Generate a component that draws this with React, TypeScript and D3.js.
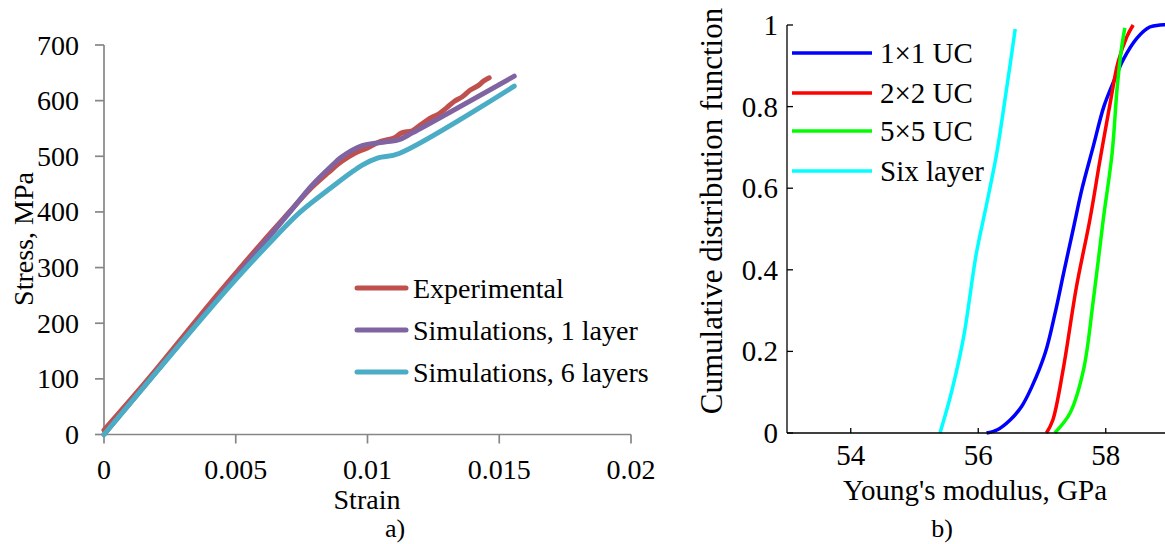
import React, { useEffect, useRef } from "react";
import * as d3 from "d3";

// ---- panel a) stress-strain data [strain, stress MPa] ----
const experimental = [
  [0, 8], [0.001, 62], [0.002, 118], [0.003, 176], [0.004, 234], [0.005, 290],
  [0.006, 345], [0.007, 398], [0.0078, 440], [0.0085, 470], [0.009, 490],
  [0.0095, 505], [0.01, 515], [0.0105, 527], [0.011, 533], [0.0113, 542],
  [0.0117, 546], [0.012, 556], [0.0124, 569], [0.0127, 576], [0.013, 587],
  [0.0133, 599], [0.0136, 607], [0.0139, 619], [0.0142, 627], [0.0144, 635],
  [0.01462, 641],
];
const sim1Layer = [
  [0, 0], [0.0069, 391], [0.0079, 448], [0.00867, 484], [0.009, 498],
  [0.0098, 519], [0.0107, 526], [0.0112, 530], [0.0117, 542], [0.01557, 644],
];
const sim6Layers = [
  [0, 0], [0.0048, 268], [0.0064, 350], [0.0074, 398], [0.0086, 443],
  [0.0098, 484], [0.0104, 497], [0.0112, 505], [0.01557, 626],
];
const strainTicks = [0, 0.005, 0.01, 0.015, 0.02];
const stressTicks = [0, 100, 200, 300, 400, 500, 600, 700];
const seriesA = ["Experimental", "Simulations, 1 layer", "Simulations, 6 layers"];
const colorsA = ["#C0504D", "#8064A2", "#4BACC6"];

// ---- panel b) CDF data [modulus GPa, probability] ----
const uc1 = [
  [56.13, 0], [56.3, 0.008], [56.5, 0.032], [56.68, 0.065], [56.84, 0.113],
  [57.05, 0.196], [57.2, 0.29], [57.35, 0.4], [57.49, 0.5], [57.63, 0.6],
  [57.8, 0.7], [57.97, 0.8], [58.12, 0.86], [58.27, 0.914], [58.49, 0.968],
  [58.69, 0.995], [58.85, 1], [59, 1],
];
const uc2 = [
  [57.07, 0], [57.17, 0.032], [57.33, 0.154], [57.54, 0.358], [57.75, 0.522],
  [57.91, 0.669], [58.07, 0.809], [58.19, 0.907], [58.33, 0.971], [58.43, 1],
];
const uc5 = [
  [57.2, 0], [57.44, 0.049], [57.65, 0.154], [57.8, 0.319], [57.96, 0.522],
  [58.1, 0.686], [58.18, 0.848], [58.25, 0.946], [58.3, 0.993],
];
const sixLayer = [
  [55.4, 0], [55.58, 0.1], [55.77, 0.235], [55.97, 0.44], [56.13, 0.56],
  [56.29, 0.686], [56.45, 0.85], [56.58, 0.99],
];
const modulusTicks = [54, 56, 58];
const cdfTicks = [0, 0.2, 0.4, 0.6, 0.8, 1];
const seriesB = ["1×1 UC", "2×2 UC", "5×5 UC", "Six layer"];
const colorsB = ["#0000FF", "#FF0000", "#00FF00", "#00FFFF"];

const FONT = "'Liberation Serif', 'Times New Roman', serif";

const App = () => {
  const ref = useRef(null);

  useEffect(() => {
    const svg = d3.select(ref.current);
    svg.selectAll("*").remove();

    // ================= panel a =================
    const xA = d3.scaleLinear().domain([0, 0.02]).range([104, 631]);
    const yA = d3.scaleLinear().domain([0, 700]).range([434.5, 45]);
    const axisGrey = "#868686";

    const gA = svg.append("g");
    // y axis
    gA.append("line")
      .attr("x1", xA(0)).attr("x2", xA(0))
      .attr("y1", yA(0)).attr("y2", yA(700))
      .attr("stroke", axisGrey).attr("stroke-width", 1.7);
    stressTicks.forEach((t) => {
      gA.append("line")
        .attr("x1", xA(0) - 9).attr("x2", xA(0))
        .attr("y1", yA(t)).attr("y2", yA(t))
        .attr("stroke", axisGrey).attr("stroke-width", 1.7);
      gA.append("text")
        .attr("x", 79).attr("y", yA(t))
        .attr("text-anchor", "end").attr("dominant-baseline", "central")
        .text(t);
    });
    // x axis
    gA.append("line")
      .attr("x1", xA(0)).attr("x2", xA(0.02))
      .attr("y1", yA(0)).attr("y2", yA(0))
      .attr("stroke", axisGrey).attr("stroke-width", 1.7);
    strainTicks.forEach((t) => {
      gA.append("line")
        .attr("x1", xA(t)).attr("x2", xA(t))
        .attr("y1", yA(0)).attr("y2", yA(0) + 9)
        .attr("stroke", axisGrey).attr("stroke-width", 1.7);
      gA.append("text")
        .attr("x", xA(t)).attr("y", 479)
        .attr("text-anchor", "middle")
        .text(t);
    });

    const lineA = d3.line()
      .x((d) => xA(d[0]))
      .y((d) => yA(d[1]))
      .curve(d3.curveCatmullRom.alpha(0.5));

    [experimental, sim1Layer, sim6Layers].forEach((s, i) => {
      gA.append("path")
        .datum(s)
        .attr("d", lineA)
        .attr("fill", "none")
        .attr("stroke", colorsA[i])
        .attr("stroke-width", 5)
        .attr("stroke-linecap", "round")
        .attr("stroke-linejoin", "round");
    });

    // legend a
    seriesA.forEach((name, i) => {
      const ly = 288 + i * 42;
      gA.append("line")
        .attr("x1", 357).attr("x2", 406)
        .attr("y1", ly).attr("y2", ly)
        .attr("stroke", colorsA[i]).attr("stroke-width", 5)
        .attr("stroke-linecap", "round");
      gA.append("text")
        .attr("x", 413).attr("y", ly)
        .attr("dominant-baseline", "central")
        .text(name);
    });

    // axis title sits just under the 0.01 label, as in the original
    gA.append("text")
      .attr("x", 367).attr("y", 509)
      .attr("text-anchor", "middle")
      .text("Strain");
    gA.append("text")
      .attr("transform", "translate(33,239) rotate(-90)")
      .attr("text-anchor", "middle")
      .text("Stress, MPa");
    gA.append("text")
      .attr("x", 395).attr("y", 537)
      .attr("text-anchor", "middle")
      .style("font-size", "26px")
      .text("a)");

    // ================= panel b =================
    const xB = d3.scaleLinear().domain([53, 59]).range([787, 1169.5]);
    const yB = d3.scaleLinear().domain([0, 1]).range([433, 25]);
    const gB = svg.append("g").style("font-size", "29px");

    const lineB = d3.line()
      .x((d) => xB(d[0]))
      .y((d) => yB(d[1]))
      .curve(d3.curveCatmullRom.alpha(0.5));

    [uc1, uc2, uc5, sixLayer].forEach((s, i) => {
      gB.append("path")
        .datum(s)
        .attr("d", lineB)
        .attr("fill", "none")
        .attr("stroke", colorsB[i])
        .attr("stroke-width", 3.5)
        .attr("stroke-linejoin", "round");
    });

    // axes b
    gB.append("line")
      .attr("x1", xB(53)).attr("x2", xB(53))
      .attr("y1", yB(0)).attr("y2", yB(1))
      .attr("stroke", "#000").attr("stroke-width", 1.3);
    gB.append("line")
      .attr("x1", xB(53)).attr("x2", 1165)
      .attr("y1", yB(0)).attr("y2", yB(0))
      .attr("stroke", "#000").attr("stroke-width", 1.3);
    cdfTicks.forEach((t) => {
      gB.append("line")
        .attr("x1", xB(53)).attr("x2", xB(53) + 6)
        .attr("y1", yB(t)).attr("y2", yB(t))
        .attr("stroke", "#000").attr("stroke-width", 1.3);
      gB.append("text")
        .attr("x", 778).attr("y", yB(t))
        .attr("text-anchor", "end").attr("dominant-baseline", "central")
        .text(t);
    });
    modulusTicks.forEach((t) => {
      gB.append("line")
        .attr("x1", xB(t)).attr("x2", xB(t))
        .attr("y1", yB(0)).attr("y2", yB(0) - 5)
        .attr("stroke", "#000").attr("stroke-width", 1.3);
      gB.append("text")
        .attr("x", xB(t)).attr("y", 465)
        .attr("text-anchor", "middle")
        .text(t);
    });

    // legend b
    seriesB.forEach((name, i) => {
      const ly = [53, 93, 131, 171][i];
      gB.append("line")
        .attr("x1", 792).attr("x2", 872)
        .attr("y1", ly).attr("y2", ly)
        .attr("stroke", colorsB[i]).attr("stroke-width", 3.5);
      gB.append("text")
        .attr("x", 880).attr("y", ly)
        .attr("dominant-baseline", "central")
        .text(name);
    });

    gB.append("text")
      .attr("x", 975).attr("y", 500)
      .attr("text-anchor", "middle")
      .text("Young's modulus, GPa");
    gB.append("text")
      .attr("transform", "translate(722,211) rotate(-90)")
      .attr("text-anchor", "middle")
      .style("font-size", "31px")
      .text("Cumulative distribution function");
    gB.append("text")
      .attr("x", 942).attr("y", 537)
      .attr("text-anchor", "middle")
      .style("font-size", "26px")
      .text("b)");
  }, []);

  return (
    <div style={{ position: "fixed", left: 0, top: 0, background: "#fff" }}>
      <svg
        ref={ref}
        width={1165}
        height={544}
        style={{ display: "block", fontFamily: FONT, fontSize: 28, fill: "#000" }}
      />
    </div>
  );
};

export default App;
